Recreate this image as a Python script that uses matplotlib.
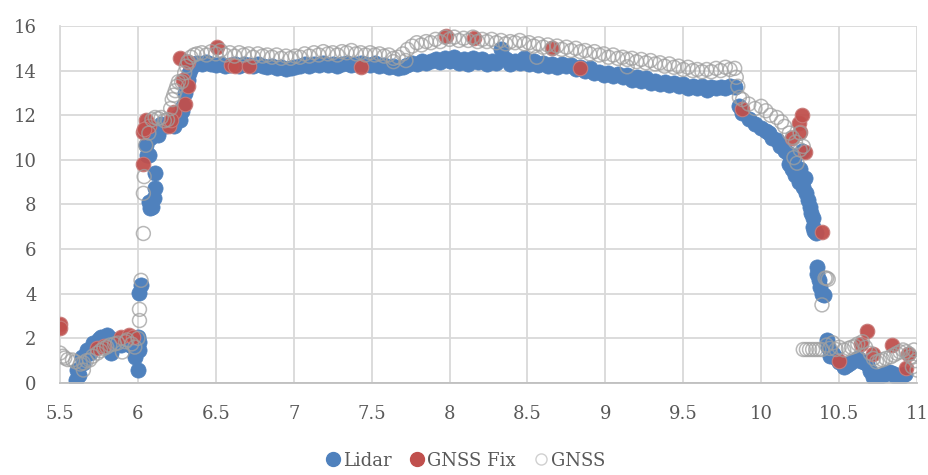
"""
Lidar vs GNSS scatter (distance vs height)
"""

import matplotlib
matplotlib.use("Agg")
import matplotlib.pyplot as plt
from matplotlib.lines import Line2D


# -------------------------------
# DATA
# -------------------------------

# Lidar: start / rise / top band / drop / end
lidar_x = [
    5.60, 5.61, 5.62, 5.64, 5.65, 5.67, 5.69, 5.71, 5.73, 5.75,
    5.76, 5.78, 5.80, 5.82, 5.83, 5.84, 5.86, 5.88, 5.89, 5.91,
    5.93, 5.95, 5.97, 5.98, 6.00, 6.00, 6.01, 6.01, 6.02, 6.01,
    6.05, 6.06, 6.07, 6.08, 6.09, 6.10, 6.11, 6.11, 6.10, 6.07,
    6.05, 6.06, 6.08, 6.13, 6.15, 6.18, 6.20, 6.23, 6.25, 6.27,
    6.28, 6.29, 6.30, 6.31, 6.32, 6.33, 6.34, 6.36,
    6.38, 6.41, 6.44, 6.47, 6.50, 6.53, 6.56, 6.59, 6.62, 6.65,
    6.68, 6.71, 6.74, 6.77, 6.80, 6.83, 6.86, 6.89, 6.92, 6.95,
    6.98, 7.01, 7.04, 7.07, 7.10, 7.13, 7.16, 7.19, 7.22, 7.25,
    7.28, 7.31, 7.34, 7.37, 7.40, 7.43, 7.46, 7.49, 7.52, 7.55,
    7.58, 7.61, 7.64, 7.67, 7.70, 7.73, 7.76, 7.79, 7.82, 7.85,
    7.88, 7.91, 7.94, 7.97, 8.00, 8.03, 8.06, 8.09, 8.12, 8.15,
    8.18, 8.21, 8.24, 8.27, 8.30, 8.33, 8.36, 8.39, 8.42, 8.45,
    8.48, 8.51, 8.54, 8.57, 8.60, 8.63, 8.66, 8.69, 8.72, 8.75,
    8.78, 8.81, 8.84, 8.87, 8.90, 8.93, 8.96, 8.99, 9.02, 9.05,
    9.08, 9.11, 9.14, 9.17, 9.20, 9.23, 9.26, 9.29, 9.32, 9.35,
    9.38, 9.41, 9.44, 9.47, 9.50, 9.53, 9.56, 9.59, 9.62, 9.65,
    9.68, 9.71, 9.74, 9.77, 9.80, 9.83,
    9.86, 9.88, 9.92, 9.96, 10.00, 10.03, 10.05, 10.07, 10.10, 10.12,
    10.15, 10.17, 10.18, 10.20, 10.21, 10.22, 10.24, 10.25, 10.26, 10.27,
    10.28, 10.29, 10.30, 10.31, 10.32, 10.33, 10.33, 10.34, 10.35, 10.36,
    10.36, 10.37, 10.38, 10.39, 10.40,
    10.42, 10.43, 10.44, 10.46, 10.48, 10.50, 10.53, 10.55, 10.57, 10.60,
    10.62, 10.64, 10.66, 10.68, 10.70, 10.72, 10.74, 10.76, 10.78, 10.80,
    10.82, 10.84, 10.86, 10.88, 10.90, 10.92,
]
lidar_y = [
    0.13, 0.58, 0.35, 1.17, 0.90, 1.48, 1.35, 1.79, 1.60, 1.95,
    2.07, 1.90, 2.15, 2.00, 1.34, 1.93, 1.80, 1.75, 1.70, 1.85,
    1.90, 1.70, 1.61, 1.17, 0.58, 2.07, 1.50, 4.03, 4.40, 1.85,
    10.65, 10.20, 8.10, 7.85, 7.90, 8.30, 8.75, 9.40, 11.10, 10.20,
    11.20, 11.50, 11.00, 11.10, 11.60, 11.50, 11.60, 11.50, 11.90, 11.80,
    12.20, 12.40, 13.00, 13.30, 13.60, 13.90, 14.10, 14.30,
    14.35, 14.30, 14.40, 14.30, 14.25, 14.30, 14.20, 14.25, 14.30, 14.20,
    14.30, 14.25, 14.20, 14.30, 14.20, 14.15, 14.20, 14.10, 14.15, 14.05,
    14.10, 14.15, 14.20, 14.30, 14.20, 14.30, 14.25, 14.35, 14.25, 14.30,
    14.20, 14.30, 14.35, 14.25, 14.30, 14.35, 14.30, 14.25, 14.35, 14.20,
    14.25, 14.15, 14.20, 14.10, 14.15, 14.25, 14.35, 14.30, 14.45, 14.35,
    14.45, 14.50, 14.40, 14.55, 14.45, 14.60, 14.35, 14.50, 14.30, 14.55,
    14.40, 14.50, 14.30, 14.45, 14.35, 14.95, 14.50, 14.30, 14.45, 14.35,
    14.55, 14.30, 14.45, 14.25, 14.35, 14.20, 14.30, 14.15, 14.30, 14.20,
    14.25, 14.05, 14.15, 14.00, 14.10, 13.90, 13.95, 13.80, 13.90, 13.75,
    13.85, 13.70, 13.80, 13.60, 13.70, 13.55, 13.65, 13.45, 13.55, 13.40,
    13.50, 13.35, 13.45, 13.30, 13.40, 13.20, 13.30, 13.20, 13.30, 13.15,
    13.25, 13.20, 13.25, 13.20, 13.30, 13.25,
    12.40, 12.10, 11.85, 11.60, 11.45, 11.30, 11.20, 11.00, 10.90, 10.60,
    10.40, 10.30, 9.80, 9.60, 10.10, 9.30, 9.00, 9.60, 10.40, 8.80,
    9.20, 8.50, 8.20, 7.90, 7.60, 7.40, 7.00, 6.80, 6.70, 5.20,
    4.90, 4.60, 4.30, 4.00, 3.95,
    1.93, 1.60, 1.20, 1.30, 1.10, 0.95, 0.72, 0.80, 0.90, 1.05,
    1.10, 1.00, 0.95, 0.85, 0.55, 0.27, 0.22, 0.30, 0.35, 0.45,
    0.50, 0.45, 0.30, 0.35, 0.27, 0.40,
]

# GNSS Fix
fix_x = [
    5.50, 5.50, 5.74, 5.78, 5.89, 5.94, 5.97, 6.035, 6.035, 6.05,
    6.07, 6.04, 6.20, 6.23, 6.21, 6.27, 6.29, 6.30, 6.32, 6.32,
    6.51, 6.60, 6.62, 6.71, 7.43, 7.98, 8.16, 8.66, 8.84, 9.88,
    10.20, 10.24, 10.25, 10.26, 10.28, 10.39, 10.50, 10.64, 10.68, 10.72,
    10.84, 10.93, 10.94,
]
fix_y = [
    2.64, 2.45, 1.57, 1.66, 2.06, 2.15, 2.06, 9.80, 11.25, 11.80,
    11.50, 11.40, 11.50, 12.15, 11.80, 14.55, 13.60, 12.50, 13.30, 14.40,
    15.06, 14.25, 14.20, 14.20, 14.18, 15.55, 15.45, 15.03, 14.10, 12.30,
    11.00, 11.65, 11.25, 12.00, 10.35, 6.78, 1.00, 1.75, 2.35, 1.30,
    1.70, 0.67, 1.30,
]

# GNSS (float)
gnss_x = [
    5.50, 5.52, 5.53, 5.55, 5.58, 5.60, 5.63, 5.65, 5.65, 5.67,
    5.69, 5.71, 5.74, 5.76, 5.78, 5.80, 5.82, 5.85, 5.87, 5.90,
    5.92, 5.93, 5.96, 5.98, 6.00, 6.01, 6.01, 6.02, 6.035, 6.035,
    6.04, 6.05,
    6.07, 6.09, 6.11, 6.13, 6.15, 6.17, 6.19, 6.21, 6.22, 6.23,
    6.24, 6.25, 6.26, 6.28, 6.30, 6.31, 6.32, 6.34, 6.36,
    6.38, 6.41, 6.44, 6.47, 6.50, 6.53, 6.56, 6.59, 6.62, 6.65,
    6.68, 6.71, 6.74, 6.77, 6.80, 6.83, 6.86, 6.89, 6.92, 6.95,
    6.98, 7.01, 7.04, 7.07, 7.10, 7.13, 7.16, 7.19, 7.22, 7.25,
    7.28, 7.31, 7.34, 7.37, 7.40, 7.43, 7.46, 7.49, 7.52, 7.55,
    7.58, 7.61, 7.64, 7.67, 7.70, 7.73, 7.76, 7.79, 7.82, 7.85,
    7.88, 7.91, 7.94, 7.97, 8.00, 8.03, 8.06, 8.09, 8.12, 8.15,
    8.18, 8.21, 8.24, 8.27, 8.30, 8.33, 8.36, 8.39, 8.42, 8.45,
    8.48, 8.51, 8.54, 8.57, 8.60, 8.63, 8.66, 8.69, 8.72, 8.75,
    8.78, 8.81, 8.84, 8.87, 8.90, 8.93, 8.96, 8.99, 9.02, 9.05,
    9.08, 9.11, 9.14, 9.17, 9.20, 9.23, 9.26, 9.29, 9.32, 9.35,
    9.38, 9.41, 9.44, 9.47, 9.50, 9.53, 9.56, 9.59, 9.62, 9.65,
    9.68, 9.71, 9.74, 9.77, 9.80, 9.83,
    7.64, 8.56, 9.14, 7.72,
    9.84, 9.85, 9.86, 9.88, 9.92, 9.96, 10.00, 10.03, 10.06, 10.10,
    10.13, 10.15, 10.18, 10.20, 10.21, 10.22, 10.23, 10.25, 10.25, 10.27,
    10.39, 10.41, 10.42, 10.43,
    10.27, 10.29, 10.31, 10.33, 10.35, 10.37, 10.39,
    10.42, 10.44, 10.46, 10.48, 10.50, 10.53, 10.56, 10.58, 10.60, 10.62,
    10.65, 10.67, 10.70, 10.72, 10.74, 10.76, 10.78, 10.80, 10.83, 10.85,
    10.87, 10.89, 10.91, 10.93, 10.95, 10.96, 10.97, 10.98, 11.00, 10.99,
]
gnss_y = [
    1.34, 1.20, 1.12, 1.05, 1.03, 0.95, 0.85, 0.58, 0.90, 1.00,
    1.03, 1.20, 1.34, 1.45, 1.55, 1.61, 1.70, 1.75, 1.79, 1.39,
    1.85, 1.93, 1.75, 1.61, 2.00, 2.80, 3.30, 4.60, 6.70, 8.50,
    9.25, 10.65,
    11.20, 11.80, 11.90, 11.85, 11.90, 11.75, 11.80, 12.30, 12.70, 12.90,
    13.10, 13.30, 13.50, 13.50, 13.90, 14.20, 14.40, 14.60, 14.70,
    14.75, 14.80, 14.70, 14.85, 14.75, 14.90, 14.70, 14.80, 14.65, 14.80,
    14.70, 14.75, 14.60, 14.75, 14.65, 14.70, 14.60, 14.70, 14.55, 14.65,
    14.55, 14.65, 14.60, 14.75, 14.65, 14.80, 14.70, 14.85, 14.75, 14.80,
    14.70, 14.85, 14.80, 14.90, 14.75, 14.80, 14.70, 14.80, 14.70, 14.75,
    14.65, 14.70, 14.55, 14.60, 14.75, 14.95, 15.10, 15.25, 15.15, 15.30,
    15.25, 15.40, 15.30, 15.50, 15.40, 15.50, 15.35, 15.45, 15.35, 15.50,
    15.30, 15.40, 15.30, 15.40, 15.25, 15.35, 15.20, 15.30, 15.25, 15.35,
    15.20, 15.25, 15.10, 15.20, 15.05, 15.15, 15.00, 15.10, 14.95, 15.05,
    14.90, 15.00, 14.85, 14.90, 14.75, 14.85, 14.70, 14.75, 14.60, 14.70,
    14.55, 14.60, 14.50, 14.55, 14.40, 14.50, 14.35, 14.45, 14.30, 14.35,
    14.20, 14.30, 14.15, 14.20, 14.05, 14.15, 14.00, 14.05, 13.95, 14.05,
    13.95, 14.10, 14.00, 14.15, 14.05, 14.10,
    14.40, 14.60, 14.17, 14.45,
    13.70, 13.30, 12.80, 12.70, 12.50, 12.30, 12.40, 12.20, 12.00, 11.90,
    11.70, 11.50, 11.20, 11.00, 10.10, 10.80, 9.85, 10.45, 11.20, 10.60,
    3.50, 4.70, 4.70, 4.65,
    1.50, 1.50, 1.50, 1.50, 1.50, 1.50, 1.50,
    1.70, 1.55, 1.80, 1.50, 1.60, 1.48, 1.55, 1.60, 1.65, 1.75,
    1.85, 1.60, 1.33, 1.10, 0.95, 1.00, 1.04, 1.10, 1.17, 1.25,
    1.33, 1.40, 1.48, 1.40, 1.30, 1.17, 0.72, 1.48, 0.58, 1.00,
]

series_names = ["Lidar", "GNSS Fix", "GNSS"]
x_ticks = [5.5, 6, 6.5, 7, 7.5, 8, 8.5, 9, 9.5, 10, 10.5, 11]
x_tick_labels = ["5.5", "6", "6.5", "7", "7.5", "8", "8.5", "9", "9.5", "10", "10.5", "11"]
y_ticks = [0, 2, 4, 6, 8, 10, 12, 14, 16]

# -------------------------------
# STYLE
# -------------------------------

BLUE = "#4F81BD"
RED = "#C0504D"
GREY = "#A0A0A0"
GRID = "#D9D9D9"
TEXT = "#595959"

plt.rcParams["font.family"] = ["DejaVu Serif"]


def main():
    fig = plt.figure(figsize=(9.29, 4.75), dpi=100)
    ax = fig.add_axes([0.0646, 0.1937, 0.9225, 0.7516])

    ax.scatter(lidar_x, lidar_y, s=120, color=BLUE, edgecolors=BLUE,
               linewidths=0.5, zorder=2)
    ax.scatter(fix_x, fix_y, s=110, color=RED, edgecolors="#C87C7A",
               linewidths=0.8, alpha=0.95, zorder=3)
    ax.scatter(gnss_x, gnss_y, s=100, facecolors="none", edgecolors=GREY,
               linewidths=1.1, alpha=0.75, zorder=4)

    ax.set_xlim(5.5, 11)
    ax.set_ylim(0, 16)
    ax.set_xticks(x_ticks)
    ax.set_xticklabels(x_tick_labels)
    ax.set_yticks(y_ticks)

    ax.grid(True, color=GRID, linewidth=1.3, zorder=0)
    ax.set_axisbelow(True)
    for side in ["top", "right"]:
        ax.spines[side].set_visible(False)
    ax.spines["left"].set_color(GRID)
    ax.spines["left"].set_linewidth(1.3)
    ax.spines["bottom"].set_color("#BFBFBF")
    ax.spines["bottom"].set_linewidth(1.3)

    ax.tick_params(axis="both", length=0, labelsize=13, colors=TEXT)
    ax.tick_params(axis="x", pad=16)
    ax.tick_params(axis="y", pad=17)

    # legend at the bottom
    handles = [
        Line2D([], [], marker="o", linestyle="none", markersize=10,
               markerfacecolor=BLUE, markeredgecolor=BLUE),
        Line2D([], [], marker="o", linestyle="none", markersize=10,
               markerfacecolor=RED, markeredgecolor=RED),
        Line2D([], [], marker="o", linestyle="none", markersize=8,
               markerfacecolor="white", markeredgecolor="#D0D0D0"),
    ]
    fig.legend(handles, series_names, loc="center", bbox_to_anchor=(0.5, 0.03),
               ncol=3, frameon=False, fontsize=13, handletextpad=0.05,
               columnspacing=0.9, labelcolor=TEXT, handlelength=1.0)

    fig.savefig("out.png", dpi=100)


if __name__ == "__main__":
    main()
